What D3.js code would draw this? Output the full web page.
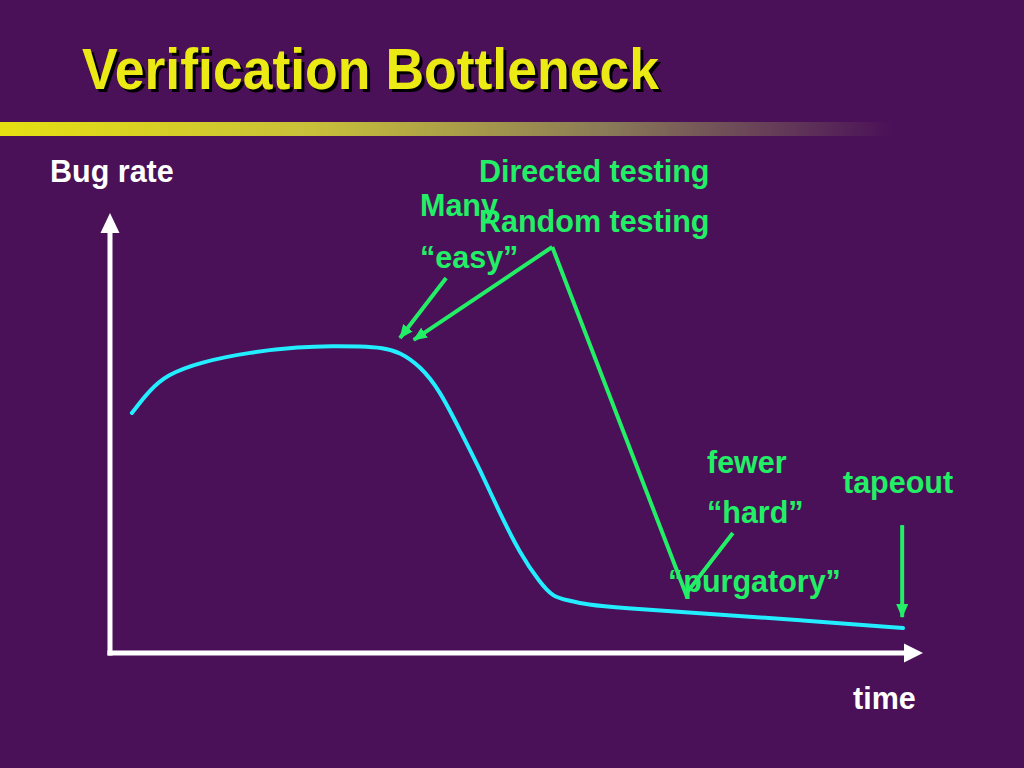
<!DOCTYPE html>
<html><head><meta charset="utf-8">
<script src="https://cdn.jsdelivr.net/npm/d3@7"></script>
<style>html,body{margin:0;padding:0;background:#4a1058;}svg{display:block;}</style>
</head><body>
<script>
// ---- data (time units 0..100, bug rate units 0..100) ----
const curveTime = [2.7, 4.9, 7.0, 11.1, 17.3, 23.5, 27.5, 30.9, 33.7, 35.8, 38.3, 40.7, 43.2, 45.7, 48.1, 50.6, 53.1, 54.7, 56.4, 58.9, 63.0, 72.8, 85.2, 97.9];
const curveRate = [54.8, 60.0, 63.5, 66.4, 68.7, 69.9, 70.1, 70.0, 69.7, 68.7, 65.5, 60.0, 50.9, 41.8, 32.0, 22.8, 16.0, 12.8, 12.1, 11.0, 10.3, 9.1, 7.5, 5.7];
// annotation pointers [time, rate]
const easyArrow = [[41.5, 85.6], [35.8, 71.9]];
const randomArrow = [[54.6, 92.7], [37.5, 71.5]];
const directedLine = [[54.6, 92.7], [71.1, 13.5], [76.9, 27.4]];
const tapeoutArrow = [[97.8, 29.2], [97.8, 8.2]];
const titleText = "Verification Bottleneck";
const axisLabels = ["Bug rate", "time"];
const annotationLabels = ["Directed testing", "Many", "Random testing", "\u201Ceasy\u201D", "fewer", "\u201Chard\u201D", "tapeout", "\u201Cpurgatory\u201D"];

// ---- drawing ----
const W = 1024, H = 768;
const BG = "#4a1058", GREEN = "#22ee66", CYAN = "#22eeff";
const svg = d3.select("body").append("svg").attr("width", W).attr("height", H);
svg.append("rect").attr("width", W).attr("height", H).attr("fill", BG);

const defs = svg.append("defs");
const grad = defs.append("linearGradient").attr("id", "bar").attr("x1", "0").attr("x2", "1");
grad.append("stop").attr("offset", "0").attr("stop-color", "#e6e012");
grad.append("stop").attr("offset", "0.35").attr("stop-color", "#c8c03a");
grad.append("stop").attr("offset", "0.68").attr("stop-color", "#8a7a58");
grad.append("stop").attr("offset", "1").attr("stop-color", BG);

defs.append("marker").attr("id", "gArrow").attr("markerUnits", "userSpaceOnUse")
  .attr("viewBox", "0 0 14 12").attr("refX", 13).attr("refY", 6)
  .attr("markerWidth", 14).attr("markerHeight", 12).attr("orient", "auto")
  .append("path").attr("d", "M0,0 L14,6 L0,12 Z").attr("fill", GREEN);

// title with shadow
const tFont = "'Liberation Sans', Arial, sans-serif";
[[3, 3, "#000"], [0, 0, "#ecea14"]].forEach(([dx, dy, c]) => {
  svg.append("text").attr("x", 82 + dx).attr("y", 89 + dy).text(titleText)
    .attr("font-family", tFont).attr("font-weight", "bold").attr("font-size", 58)
    .attr("textLength", 577).attr("lengthAdjust", "spacingAndGlyphs").attr("fill", c);
});
svg.append("rect").attr("x", 0).attr("y", 122).attr("width", 895).attr("height", 14).attr("fill", "url(#bar)");

const x = d3.scaleLinear().domain([0, 100]).range([110, 920]);
const y = d3.scaleLinear().domain([0, 100]).range([653, 215]);

// axes
const ax = svg.append("g");
ax.append("line").attr("x1", x(0)).attr("x2", x(0)).attr("y1", y(0) + 2.5).attr("y2", y(100) + 15)
  .attr("stroke", "#fff").attr("stroke-width", 5);
ax.append("line").attr("x1", x(0) - 2.5).attr("x2", x(100) - 14).attr("y1", y(0)).attr("y2", y(0))
  .attr("stroke", "#fff").attr("stroke-width", 5);
ax.append("path").attr("fill", "#fff")
  .attr("d", `M${x(0)},${y(100) - 2} L${x(0) + 9.5},${y(100) + 18} L${x(0) - 9.5},${y(100) + 18} Z`);
ax.append("path").attr("fill", "#fff")
  .attr("d", `M${x(100) + 3},${y(0)} L${x(100) - 16},${y(0) - 9.5} L${x(100) - 16},${y(0) + 9.5} Z`);

// bug rate curve
const pts = curveTime.map((t, i) => [t, curveRate[i]]);
const line = d3.line().x(d => x(d[0])).y(d => y(d[1])).curve(d3.curveBasis);
svg.append("path").attr("d", line(pts)).attr("fill", "none").attr("stroke", CYAN)
  .attr("stroke-width", 4).attr("stroke-linecap", "round");

// annotations
const straight = d3.line().x(d => x(d[0])).y(d => y(d[1]));
[easyArrow, randomArrow, tapeoutArrow].forEach(a => {
  svg.append("path").attr("d", straight(a)).attr("fill", "none").attr("stroke", GREEN)
    .attr("stroke-width", 4).attr("marker-end", "url(#gArrow)");
});
svg.append("path").attr("d", straight(directedLine)).attr("fill", "none").attr("stroke", GREEN)
  .attr("stroke-width", 4).attr("stroke-linejoin", "miter");

// labels
const lab = (t, px, py, c) => svg.append("text").attr("x", px).attr("y", py).text(t)
  .attr("font-family", tFont).attr("font-weight", "bold").attr("font-size", 30.5).attr("fill", c);
lab(axisLabels[0], 50, 182, "#fff");
lab(axisLabels[1], 853, 709, "#fff");
const annPos = [[479, 182], [420, 216], [479, 232], [420, 268], [707, 473], [707, 523], [843, 493], [668, 592]];
annotationLabels.forEach((t, i) => lab(t, annPos[i][0], annPos[i][1], GREEN));
</script>
</body></html>
